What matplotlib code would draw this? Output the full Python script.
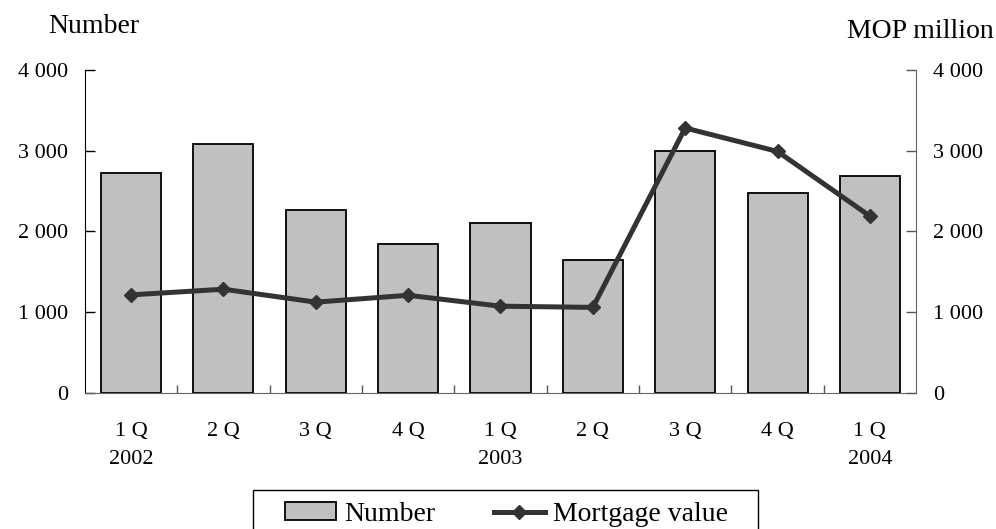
import numpy as np
import matplotlib.pyplot as plt
from matplotlib.patches import Rectangle
from matplotlib.ticker import FuncFormatter, FixedLocator

plt.rcParams['font.family'] = ['Liberation Serif', 'DejaVu Serif']

quarters = ["1 Q", "2 Q", "3 Q", "4 Q", "1 Q", "2 Q", "3 Q", "4 Q", "1 Q"]
years = ["2002", "", "", "", "2003", "", "", "", "2004"]
number = [2720, 3085, 2265, 1850, 2100, 1645, 2995, 2470, 2690]
mortgage_value = [1215, 1285, 1125, 1210, 1075, 1060, 3280, 2990, 2190]

fs = 16
fs_big = 20
W, H = 996, 529
fig = plt.figure(figsize=(W / 100, H / 100), dpi=100)
ax = fig.add_axes([0.0853, 0.257, 0.8344, 0.611])
ax2 = ax.twinx()

x = np.arange(len(quarters))
bars = ax.bar(x, number, width=0.65, color='#C0C0C0', edgecolor='black', linewidth=1.3, zorder=2)
ln, = ax2.plot(x, mortgage_value, color='#333333', lw=3.6, marker='D', ms=7, zorder=3)

ax.set_zorder(1)
ax2.set_zorder(2)
ax2.patch.set_visible(False)

ax.set_xlim(-0.5, len(x) - 0.5)
ax.set_ylim(0, 4000)
ax2.set_ylim(0, 4000)

fmt = FuncFormatter(lambda v, p: f"{int(v):,}".replace(",", " "))
for a in (ax, ax2):
    a.set_yticks([0, 1000, 2000, 3000, 4000])
    a.yaxis.set_major_formatter(fmt)
    a.spines['top'].set_visible(False)

ax.tick_params(axis='y', direction='in', length=7, width=1, colors='black', labelsize=fs, pad=12)
ax2.tick_params(axis='y', direction='in', length=7, width=1, color='#555555', labelcolor='black', labelsize=fs, pad=12)
ax.spines['left'].set_color('black')
ax.spines['right'].set_visible(False)
ax2.spines['left'].set_visible(False)
ax2.spines['right'].set_color('#666666')
ax.spines['bottom'].set_color('#666666')
ax2.spines['bottom'].set_visible(False)

labels = [q + ("\n" + y if y else "") for q, y in zip(quarters, years)]
ax.set_xticks(x)
ax.set_xticklabels(labels, fontsize=fs, linespacing=1.6, va='top')
ax.tick_params(axis='x', which='major', length=0, pad=21)
ax.xaxis.set_minor_locator(FixedLocator(np.arange(0.5, len(x) - 1, 1.0)))
ax.tick_params(axis='x', which='minor', direction='in', length=6, width=1, color='#555555')

fig.text(0.094, 0.949, "Number", fontsize=fs_big, ha='center', va='center')
fig.text(0.924, 0.941, "MOP million", fontsize=fs_big, ha='center', va='center')

# legend without its own frame, box drawn separately (bottom runs off the image)
leg = fig.legend([bars, ln], ["Number", "Mortgage value"], loc='upper center',
                 bbox_to_anchor=(506.5 / W, 1 - 502 / H), borderaxespad=0, borderpad=0,
                 ncol=2, fontsize=fs_big, frameon=False, handlelength=1.85,
                 handleheight=0.62, columnspacing=2.1, handletextpad=0.3)
fig.patches.append(Rectangle((253 / W, -0.05), 505 / W, (H - 490) / H + 0.05,
                             transform=fig.transFigure, fill=False, edgecolor='black', lw=1.0))

fig.savefig("out.png", dpi=100)
